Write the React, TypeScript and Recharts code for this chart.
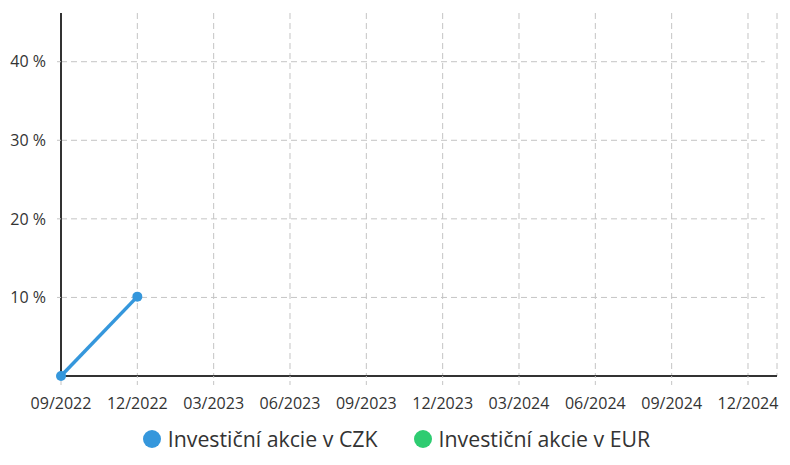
import React from "react";
import { LineChart, Line, XAxis, YAxis, CartesianGrid, Legend, ReferenceLine } from "recharts";

const quarters = ["09/2022", "12/2022", "03/2023", "06/2023", "09/2023", "12/2023", "03/2024", "06/2024", "09/2024", "12/2024"];
const czkValues: (number | null)[] = [0, 10.1, null, null, null, null, null, null, null, null];
const eurValues: (number | null)[] = [null, null, null, null, null, null, null, null, null, null];
const yTicks = [10, 20, 30, 40];
const seriesNames = ["Investiční akcie v CZK", "Investiční akcie v EUR"];
const seriesColors = ["#3597dc", "#2ecc71"];

const xMax = 9.38;
const gridEnd = 9.22;
const yMax = 46.2;

const data = quarters.map((q, i) => ({ x: i, label: q, czk: czkValues[i], eur: eurValues[i] }));

const FONT = "'Open Sans', sans-serif";

const LegendContent = (props: any) => {
  const payload = props.payload || [];
  return (
    <div style={{ display: "flex", justifyContent: "center", alignItems: "center", height: 24, fontFamily: FONT, paddingLeft: 16 }}>
      {payload.map((p: any, i: number) => (
        <div key={i} style={{ display: "flex", alignItems: "center", marginRight: i === 0 ? 36 : 0 }}>
          <span style={{ display: "inline-block", width: 18, height: 18, borderRadius: 9, background: p.color, marginRight: 7 }} />
          <span style={{ fontSize: 21.3, color: "#333", lineHeight: "24px", whiteSpace: "nowrap" }}>{p.value}</span>
        </div>
      ))}
    </div>
  );
};

export default function App() {
  return (
    <div style={{ position: "absolute", top: 0, left: 0, width: 790, height: 465, background: "#fff", fontFamily: FONT }}>
      <LineChart width={790} height={465} data={data} margin={{ top: 13, right: 13, bottom: 14, left: 0 }}>
        <CartesianGrid horizontal={false} vertical={true} stroke="#c4c4c4" strokeDasharray="6 4" />
        {yTicks.map((t) => (
          <ReferenceLine
            key={t}
            segment={[{ x: 0, y: t }, { x: gridEnd, y: t }]}
            stroke="#c4c4c4"
            strokeDasharray="6 4"
            ifOverflow="visible"
          />
        ))}
        <XAxis
          dataKey="x"
          type="number"
          domain={[0, xMax]}
          ticks={quarters.map((_, i) => i)}
          tickFormatter={(i: number) => quarters[i]}
          axisLine={{ stroke: "#333", strokeWidth: 2 }}
          tickLine={{ stroke: "#c4c4c4", strokeDasharray: "4 3" }}
          tickSize={9}
          tickMargin={13}
          height={51}
          tick={{ fill: "#333", fontSize: 16, fontFamily: FONT }}
          interval={0}
        />
        <YAxis
          type="number"
          domain={[0, yMax]}
          ticks={yTicks}
          tickFormatter={(v: number) => `${v} %`}
          axisLine={{ stroke: "#333", strokeWidth: 2 }}
          tickLine={{ stroke: "#c4c4c4" }}
          tickSize={4}
          tickMargin={11}
          width={61}
          tick={{ fill: "#333", fontSize: 16, fontFamily: FONT }}
        />
        <Legend verticalAlign="bottom" content={<LegendContent />} />
        <Line
          type="linear"
          dataKey="czk"
          name={seriesNames[0]}
          stroke={seriesColors[0]}
          strokeWidth={3.5}
          dot={{ r: 5, fill: seriesColors[0], stroke: seriesColors[0], strokeWidth: 0 }}
          isAnimationActive={false}
        />
        <Line
          type="linear"
          dataKey="eur"
          name={seriesNames[1]}
          stroke={seriesColors[1]}
          strokeWidth={3.5}
          dot={{ r: 5, fill: seriesColors[1], stroke: seriesColors[1], strokeWidth: 0 }}
          isAnimationActive={false}
        />
      </LineChart>
    </div>
  );
}
